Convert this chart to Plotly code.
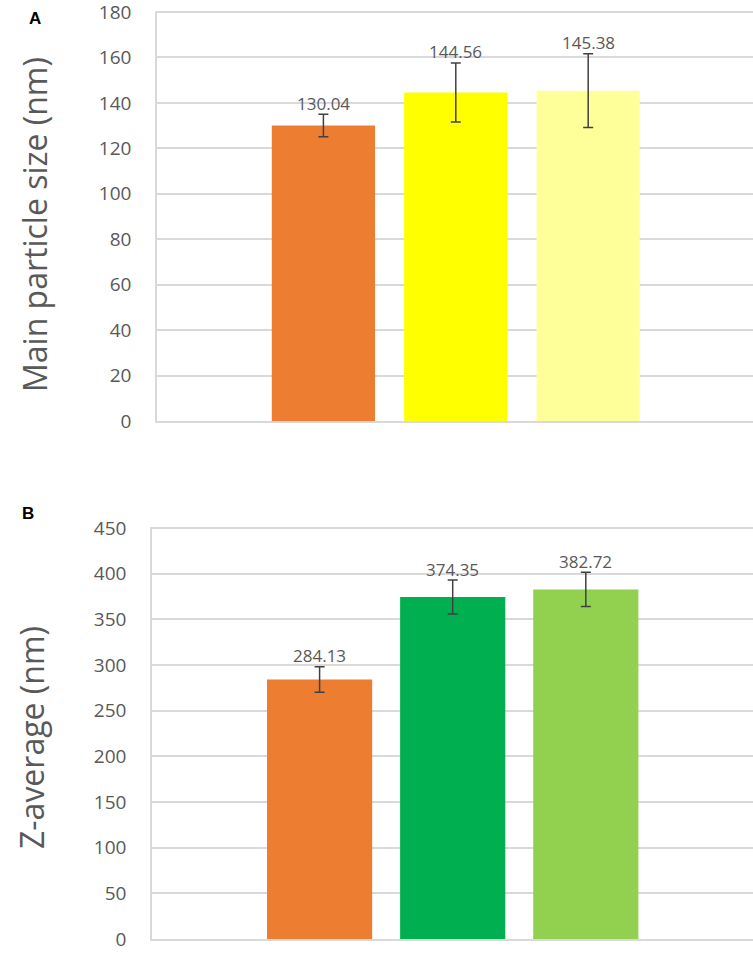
import plotly.graph_objects as go

# Panel A data
cats_a = ["S1", "S2", "S3"]
vals_a = [130.04, 144.56, 145.38]
errs_a = [5.0, 13.0, 16.2]
colors_a = ["#ED7D31", "#FFFF00", "#FFFF99"]
ticks_a = [0, 20, 40, 60, 80, 100, 120, 140, 160, 180]

# Panel B data
cats_b = ["S1", "S2", "S3"]
vals_b = [284.13, 374.35, 382.72]
errs_b = [14.0, 18.6, 18.8]
colors_b = ["#ED7D31", "#00B050", "#92D050"]
ticks_b = [0, 50, 100, 150, 200, 250, 300, 350, 400, 450]

W, H = 753, 966
TXT = "#595959"
GRID = "#D9D9D9"
FONT = "Open Sans, Noto Sans, sans-serif"

fig = go.Figure()

fig.add_trace(go.Bar(
    x=cats_a, y=vals_a, marker=dict(color=colors_a, line=dict(width=0)),
    width=0.78,
    error_y=dict(type="data", array=errs_a, visible=True, color="#404040", thickness=1.5, width=5),
    xaxis="x", yaxis="y", showlegend=False))

fig.add_trace(go.Bar(
    x=cats_b, y=vals_b, marker=dict(color=colors_b, line=dict(width=0)),
    width=0.79,
    error_y=dict(type="data", array=errs_b, visible=True, color="#404040", thickness=1.5, width=5),
    xaxis="x2", yaxis="y2", showlegend=False))

annotations = []
for c, v, e in zip(cats_a, vals_a, errs_a):
    annotations.append(dict(x=c, y=v + e, xref="x", yref="y", text=f"{v:.2f}",
                            showarrow=False, yanchor="middle", yshift=11,
                            font=dict(family=FONT, size=17, color=TXT)))
for c, v, e in zip(cats_b, vals_b, errs_b):
    annotations.append(dict(x=c, y=v + e, xref="x2", yref="y2", text=f"{v:.2f}",
                            showarrow=False, yanchor="middle", yshift=11,
                            font=dict(family=FONT, size=17, color=TXT)))

# axis titles
annotations.append(dict(x=34 / W, y=1 - 225 / H, xref="paper", yref="paper",
                        text="Main particle size (nm)", textangle=-90, showarrow=False,
                        xanchor="center", yanchor="middle",
                        font=dict(family=FONT, size=32, color=TXT)))
annotations.append(dict(x=31 / W, y=1 - 738 / H, xref="paper", yref="paper",
                        text="Z-average (nm)", textangle=-90, showarrow=False,
                        xanchor="center", yanchor="middle",
                        font=dict(family=FONT, size=32, color=TXT)))
# panel letters
annotations.append(dict(x=35 / W, y=1 - 18 / H, xref="paper", yref="paper",
                        text="<b>A</b>", showarrow=False, xanchor="center", yanchor="middle",
                        font=dict(family="Liberation Sans, Arial, sans-serif", size=17, color="#000000")))
annotations.append(dict(x=28 / W, y=1 - 513 / H, xref="paper", yref="paper",
                        text="<b>B</b>", showarrow=False, xanchor="center", yanchor="middle",
                        font=dict(family="Liberation Sans, Arial, sans-serif", size=17, color="#000000")))

yaxis_common = dict(showgrid=True, gridcolor=GRID, gridwidth=1.5, zeroline=False,
                    showline=True, linecolor=GRID, linewidth=1.5, ticks="",
                    tickfont=dict(family=FONT, size=19, color=TXT), ticklabelstandoff=20,
                    ticklabeloverflow="allow", automargin=False)
xaxis_common = dict(showticklabels=False, ticks="", showgrid=False, zeroline=False,
                    showline=True, linecolor=GRID, linewidth=1.5, type="category",
                    automargin=False)

fig.update_layout(
    width=W, height=H,
    margin=dict(l=0, r=0, t=0, b=0, pad=0, autoexpand=False),
    paper_bgcolor="white", plot_bgcolor="white",
    xaxis=dict(domain=[157 / W, 1.0], anchor="y", range=[-1.257, 3.245], **xaxis_common),
    yaxis=dict(domain=[1 - 421 / H, 1 - 10.6 / H], anchor="x", range=[0, 180.6],
               tickvals=ticks_a, **yaxis_common),
    xaxis2=dict(domain=[152 / W, 1.0], anchor="y2", range=[-1.259, 3.256], **xaxis_common),
    yaxis2=dict(domain=[1 - 939 / H, 1 - 526.6 / H], anchor="x2", range=[0, 451.5],
                tickvals=ticks_b, **yaxis_common),
    annotations=annotations,
    bargap=0.2,
)

fig.write_html("out.html", config={"displayModeBar": False},
               post_script="document.body.style.margin='0';document.body.style.overflow='hidden';")
